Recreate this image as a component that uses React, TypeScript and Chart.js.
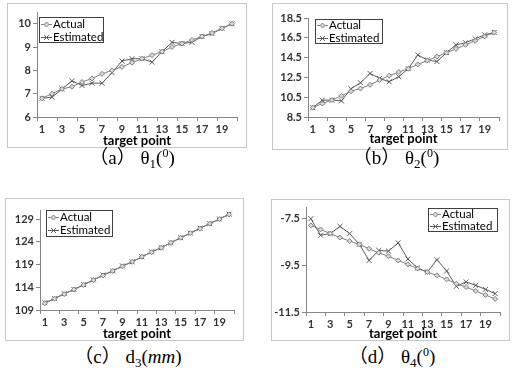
import React, { useEffect, useRef } from "react";
import { Chart, registerables } from "chart.js";

Chart.register(...registerables);

// ---------- data ----------
const targetPoints = ["1", "2", "3", "4", "5", "6", "7", "8", "9", "10", "11", "12", "13", "14", "15", "16", "17", "18", "19", "20"];

const theta1Actual = [6.8, 7.0, 7.2, 7.3, 7.5, 7.65, 7.85, 8.0, 8.15, 8.33, 8.5, 8.65, 8.8, 9.0, 9.15, 9.3, 9.45, 9.6, 9.8, 10.0];
const theta1Estimated = [6.8, 6.85, 7.2, 7.55, 7.35, 7.45, 7.45, 7.9, 8.4, 8.5, 8.5, 8.35, 8.8, 9.2, 9.15, 9.2, 9.45, 9.57, 9.8, 10.0];
const theta1Ticks = [6, 7, 8, 9, 10];

const theta2Actual = [9.45, 9.86, 10.2, 10.64, 11.1, 11.38, 11.75, 12.23, 12.67, 13.04, 13.38, 13.82, 14.2, 14.6, 15.0, 15.38, 15.79, 16.2, 16.64, 17.04];
const theta2Estimated = [9.45, 10.2, 10.2, 10.13, 11.35, 11.96, 12.9, 12.4, 12.06, 12.57, 13.38, 14.77, 14.26, 14.1, 15.0, 15.79, 16.0, 16.4, 16.8, 17.04];
const theta2Ticks = [8.5, 10.5, 12.5, 14.5, 16.5, 18.5];

const d3Actual = [110.5, 111.5, 112.5, 113.5, 114.5, 115.6, 116.6, 117.6, 118.6, 119.6, 120.7, 121.7, 122.7, 123.8, 124.9, 125.9, 126.9, 128.0, 129.0, 130.0];
const d3Estimated = [110.6, 111.5, 112.6, 113.5, 114.6, 115.6, 116.7, 117.6, 118.7, 119.6, 120.7, 121.8, 122.7, 123.8, 124.9, 125.9, 127.0, 128.0, 129.0, 130.1];
const d3Ticks = [109, 114, 119, 124, 129];

const theta4Actual = [-7.79, -7.96, -8.14, -8.31, -8.46, -8.6, -8.79, -8.96, -9.11, -9.29, -9.46, -9.64, -9.79, -9.93, -10.1, -10.29, -10.43, -10.6, -10.77, -10.94];
const theta4Estimated = [-7.5, -8.21, -8.14, -7.83, -8.14, -8.6, -9.29, -8.86, -8.89, -8.54, -9.23, -9.61, -9.79, -9.26, -9.74, -10.4, -10.21, -10.36, -10.53, -10.71];
const theta4Ticks = [-11.5, -9.5, -7.5];

const seriesNames = ["Actual", "Estimated"];
const xTitle = "target point";

// ---------- styles ----------
const ACTUAL_COLOR = "#7f7f7f";
const EST_COLOR = "#595959";
const AXIS_COLOR = "#868686";

function drawMarker(ctx: CanvasRenderingContext2D, style: string, x: number, y: number, r: number, stroke: string, fill: string) {
  ctx.save();
  ctx.strokeStyle = stroke;
  ctx.fillStyle = fill;
  ctx.lineWidth = 1;
  ctx.beginPath();
  if (style === "rectRot") {
    ctx.moveTo(x, y - r);
    ctx.lineTo(x + r, y);
    ctx.lineTo(x, y + r);
    ctx.lineTo(x - r, y);
    ctx.closePath();
    ctx.fill();
    ctx.stroke();
  } else {
    const d = r * 0.7;
    ctx.moveTo(x - d, y - d);
    ctx.lineTo(x + d, y + d);
    ctx.moveTo(x + d, y - d);
    ctx.lineTo(x - d, y + d);
    ctx.stroke();
  }
  ctx.restore();
}

const boxLegend = {
  id: "boxLegend",
  afterDatasetsDraw(chart: any, _args: any, opts: any) {
    if (!opts || opts.w == null) return;
    const ctx: CanvasRenderingContext2D = chart.ctx;
    const { x, y, w, h } = opts;
    ctx.save();
    ctx.fillStyle = "#fff";
    ctx.fillRect(x, y, w, h);
    ctx.strokeStyle = "#404040";
    ctx.lineWidth = 1;
    ctx.strokeRect(x + 0.5, y + 0.5, w - 1, h - 1);
    const n = chart.data.datasets.length;
    chart.data.datasets.forEach((ds: any, i: number) => {
      const cy = Math.round(y + (h * (i + 0.5)) / n) + 0.5;
      const x0 = x + 2;
      const x1 = x + 13;
      ctx.strokeStyle = ds.borderColor;
      ctx.lineWidth = 1;
      ctx.beginPath();
      ctx.moveTo(x0, cy);
      ctx.lineTo(x1, cy);
      ctx.stroke();
      drawMarker(ctx, ds.pointStyle, (x0 + x1) / 2, cy, ds.pointRadius, ds.pointBorderColor, ds.pointBackgroundColor);
      ctx.fillStyle = "#000";
      ctx.font = "11.5px Lato";
      ctx.textBaseline = "middle";
      ctx.textAlign = "left";
      ctx.fillText(ds.label, x1 + 1, cy);
    });
    ctx.restore();
  },
};

type PanelCfg = {
  left: number;
  top: number;
  w: number;
  h: number;
  actual: number[];
  estimated: number[];
  yTicks: number[];
  yMin: number;
  yMax: number;
  yWidth: number;
  xHeight: number;
  padTop: number;
  padRight: number;
  titleBottom: number;
  legend: { x: number; y: number; w: number; h: number };
};

function Panel({ cfg }: { cfg: PanelCfg }) {
  const ref = useRef<HTMLCanvasElement | null>(null);
  useEffect(() => {
    if (!ref.current) return;
    const tickFont = { family: "Lato", weight: "bold" as const, size: 11 };
    const chart = new Chart(ref.current, {
      type: "line",
      data: {
        labels: targetPoints,
        datasets: [
          {
            label: seriesNames[0],
            data: cfg.actual,
            borderColor: ACTUAL_COLOR,
            borderWidth: 1,
            pointStyle: "rectRot",
            pointRadius: 2.5,
            pointBorderColor: ACTUAL_COLOR,
            pointBackgroundColor: "#d9d9d9",
            pointBorderWidth: 1,
            tension: 0,
          },
          {
            label: seriesNames[1],
            data: cfg.estimated,
            borderColor: EST_COLOR,
            borderWidth: 1,
            pointStyle: "crossRot",
            pointRadius: 3.5,
            pointBorderColor: EST_COLOR,
            pointBackgroundColor: EST_COLOR,
            pointBorderWidth: 1,
            tension: 0,
          },
        ],
      },
      options: {
        responsive: false,
        animation: false,
        devicePixelRatio: 1,
        layout: { padding: { left: 0, top: cfg.padTop, right: cfg.padRight, bottom: 0 } },
        plugins: {
          legend: { display: false },
          tooltip: { enabled: false },
          boxLegend: cfg.legend,
        } as any,
        scales: {
          x: {
            type: "category",
            offset: true,
            border: { display: true, color: AXIS_COLOR, width: 1 },
            grid: {
              offset: true,
              drawOnChartArea: false,
              drawTicks: true,
              tickLength: 4,
              color: (c: any) => (c.type !== "tick" || c.index % 2 === 0 ? AXIS_COLOR : "rgba(0,0,0,0)"),
            },
            ticks: {
              autoSkip: false,
              maxRotation: 0,
              padding: 2,
              color: "#333333",
              font: tickFont,
              callback: (_v: any, i: number) => (i % 2 === 0 ? targetPoints[i] : ""),
            },
            title: {
              display: true,
              text: xTitle,
              color: "#000",
              font: { family: "Lato", weight: "bold", size: 13, lineHeight: 1.0 },
              padding: { top: 0, bottom: cfg.titleBottom },
            },
            afterFit: (s: any) => {
              s.height = cfg.xHeight;
              s.paddingLeft = 0;
              s.paddingRight = 0;
            },
          },
          y: {
            type: "linear",
            min: cfg.yMin,
            max: cfg.yMax,
            border: { display: true, color: AXIS_COLOR, width: 1 },
            grid: { drawOnChartArea: false, drawTicks: true, tickLength: 4, color: AXIS_COLOR },
            ticks: { padding: 2, color: "#333333", font: tickFont },
            afterBuildTicks: (s: any) => {
              s.ticks = cfg.yTicks.map((v) => ({ value: v }));
            },
            afterFit: (s: any) => {
              s.width = cfg.yWidth;
              s.paddingTop = 0;
              s.paddingBottom = 0;
            },
          },
        },
      } as any,
      plugins: [boxLegend as any],
    });
    return () => chart.destroy();
  }, [cfg]);

  return (
    <div
      style={{
        position: "absolute",
        left: cfg.left,
        top: cfg.top,
        width: cfg.w,
        height: cfg.h,
        border: "1px solid #c8c8c8",
        boxSizing: "border-box",
        background: "#fff",
      }}
    >
      <canvas ref={ref} width={cfg.w - 2} height={cfg.h - 2} style={{ display: "block", width: cfg.w - 2, height: cfg.h - 2 }} />
    </div>
  );
}

const panelA: PanelCfg = {
  left: 7, top: 3, w: 240, h: 145,
  actual: theta1Actual, estimated: theta1Estimated, yTicks: theta1Ticks, yMin: 6, yMax: 10.5,
  yWidth: 29, xHeight: 30, padTop: 8, padRight: 9, titleBottom: 0,
  legend: { x: 31, y: 13, w: 65, h: 26 },
};
const panelB: PanelCfg = {
  left: 272, top: 3, w: 236, h: 147,
  actual: theta2Actual, estimated: theta2Estimated, yTicks: theta2Ticks, yMin: 8.5, yMax: 18.5,
  yWidth: 35, xHeight: 32, padTop: 14, padRight: 8, titleBottom: 4,
  legend: { x: 42, y: 15, w: 68, h: 25 },
};
const panelC: PanelCfg = {
  left: 5, top: 198, w: 239, h: 143,
  actual: d3Actual, estimated: d3Estimated, yTicks: d3Ticks, yMin: 109, yMax: 131,
  yWidth: 34, xHeight: 30, padTop: 11, padRight: 9, titleBottom: 0,
  legend: { x: 40, y: 11, w: 67, h: 27 },
};
const panelD: PanelCfg = {
  left: 271, top: 199, w: 239, h: 142,
  actual: theta4Actual, estimated: theta4Estimated, yTicks: theta4Ticks, yMin: -11.5, yMax: -7.0,
  yWidth: 34, xHeight: 28, padTop: 7, padRight: 9, titleBottom: 0,
  legend: { x: 156, y: 8, w: 70, h: 24 },
};

const captionStyle: React.CSSProperties = {
  position: "absolute",
  width: 160,
  textAlign: "center",
  fontFamily: "'Liberation Serif', 'DejaVu Serif', 'Noto Sans CJK SC', serif",
  fontSize: 19,
  lineHeight: "22px",
  color: "#000",
  whiteSpace: "nowrap",
};
const subStyle: React.CSSProperties = { fontSize: 13, verticalAlign: "-4px", lineHeight: 0 };
const supStyle: React.CSSProperties = { fontSize: 12, verticalAlign: "7px", lineHeight: 0 };

export default function App() {
  return (
    <div style={{ position: "absolute", left: 0, top: 0, width: 516, height: 374, background: "#fff", overflow: "hidden" }}>
      <Panel cfg={panelA} />
      <Panel cfg={panelB} />
      <Panel cfg={panelC} />
      <Panel cfg={panelD} />
      <div style={{ ...captionStyle, left: 132 - 80, top: 147 }}>
        （a） θ<span style={subStyle}>1</span>(<span style={supStyle}>0</span>)
      </div>
      <div style={{ ...captionStyle, left: 396 - 80, top: 147 }}>
        （b） θ<span style={subStyle}>2</span>(<span style={supStyle}>0</span>)
      </div>
      <div style={{ ...captionStyle, left: 128 - 80, top: 346 }}>
        （c） d<span style={subStyle}>3</span>(<i>mm</i>)
      </div>
      <div style={{ ...captionStyle, left: 392 - 80, top: 346 }}>
        （d） θ<span style={subStyle}>4</span>(<span style={supStyle}>0</span>)
      </div>
    </div>
  );
}
